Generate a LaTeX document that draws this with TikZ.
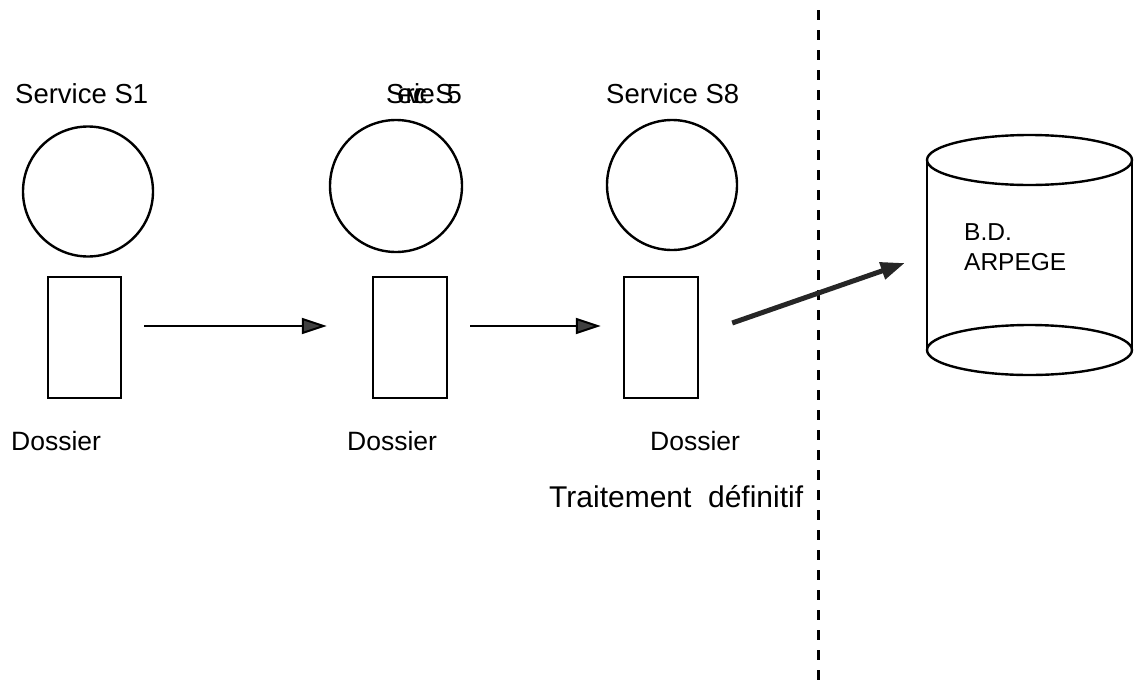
\documentclass[tikz,border=0pt]{standalone}
\usepackage{fontspec}
\setmainfont{Liberation Sans}
\usetikzlibrary{arrows.meta,calc}
\begin{document}
\begin{tikzpicture}[x=1pt,y=-1pt,
  svc/.style={circle,draw,line width=2.4pt,minimum size=130pt,inner sep=0pt},
  doc/.style={draw,line width=2.4pt,minimum width=73pt,minimum height=121pt,inner sep=0pt},
  lbl/.style={anchor=base west,inner sep=0pt,font=\fontsize{27.5}{33}\selectfont},
  dlbl/.style={anchor=base west,inner sep=0pt,font=\fontsize{26.5}{32}\selectfont},
  flow/.style={line width=2pt,-{Triangle[length=25pt,width=16pt,fill=black!75]}},
  bigflow/.style={line width=5pt,draw=black!85,-{Triangle[length=24pt,width=17pt]}},
  sep/.style={line width=3pt,dash pattern=on 10pt off 10pt},
  cyl/.style={line width=2.4pt}]
\useasboundingbox (0,0) rectangle (1141,686);

% services
\node[svc] (c1) at (88,191.5) {};
\node[svc,minimum size=132pt] (c2) at (396,186) {};
\node[svc] (c3) at (672,185) {};

\node[lbl] (s1) at (15,103) {Service S1};
\node[lbl] (s5) at (386,103) {\addfontfeature{LetterSpace=-26}Service S5};
\node[lbl] (s8) at (606,103) {Service S8};

% dossiers
\node[doc] (r1) at (84.5,337.5) {};
\node[doc,minimum width=74pt] (r2) at (410,337.5) {};
\node[doc,minimum width=74pt] (r3) at (661,337.5) {};

\node[dlbl] (d1) at (11,450) {Dossier};
\node[dlbl] (d2) at (347,450) {Dossier};
\node[dlbl] (d3) at (650,450) {Dossier};

\node[anchor=base west,inner sep=0pt,font=\fontsize{30}{36}\selectfont] (tr) at (549,507) {Traitement\ \ définitif};

% flows
\draw[flow] ($(r1.east)+(22,-11.5)$) -- ($(r2.west)+(-45,-11.5)$);
\draw[flow] ($(r2.east)+(22,-11.5)$) -- ($(r3.west)+(-22,-11.5)$);

% separator
\coordinate (sT) at (818,10);
\coordinate (sB) at (818,686);
\draw[sep] (sT) -- (sB);

% database cylinder
\node[minimum width=205pt,minimum height=190pt,inner sep=0pt] (db) at (1029.5,255) {};
\draw[cyl] (1029.5,160) ellipse [x radius=102.5, y radius=25];
\draw[cyl] (1029.5,350) ellipse [x radius=102.5, y radius=25];
\draw[cyl] (927,160) -- (927,350);
\draw[cyl] (1132,160) -- (1132,350);
\node[anchor=base west,inner sep=0pt,font=\fontsize{24.5}{30}\selectfont] (bd) at (964,240) {B.D.};
\node[anchor=base west,inner sep=0pt,font=\fontsize{24.5}{30}\selectfont] (ar) at (964,270) {ARPEGE};

\draw[bigflow] ($(r3.east)+(33,-14.5)$) -- ($(db.west)+(-22,8)$);
\end{tikzpicture}
\end{document}
